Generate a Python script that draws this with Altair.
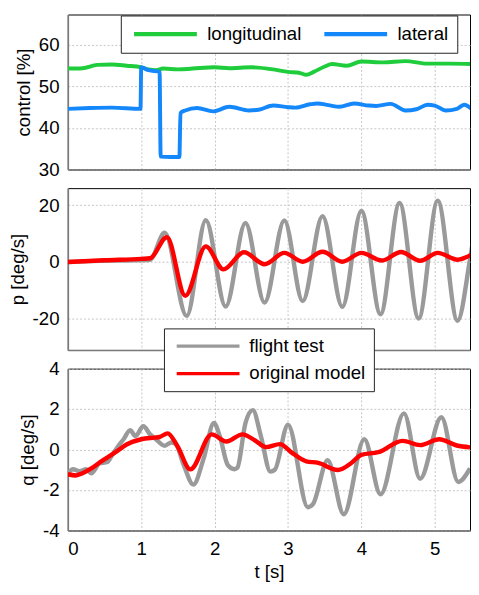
import altair as alt
import pandas as pd

# ---------------- data ----------------
t_long = [0, 0.2, 0.4, 0.6, 0.8, 1.0, 1.1, 1.2, 1.3, 1.5, 1.7, 2.0, 2.2, 2.5, 2.8, 3.0, 3.15, 3.25, 3.35, 3.5, 3.6, 3.8, 4.0, 4.3, 4.6, 4.9, 5.2, 5.5]
long_vals = [54.3, 54.4, 55.2, 55.3, 55.0, 54.6, 54.1, 53.9, 54.3, 54.1, 54.3, 54.6, 54.4, 54.6, 54.1, 53.5, 53.3, 52.8, 53.5, 54.8, 55.4, 55.0, 56.0, 55.8, 56.1, 55.5, 55.5, 55.4]

t_lat = [0, 0.3, 0.6, 0.99, 1.0, 1.1, 1.25, 1.265, 1.4, 1.52, 1.535, 1.6, 1.76, 1.98, 2.2, 2.47, 2.6, 2.8, 3.0, 3.1, 3.3, 3.4, 3.55, 3.7, 3.9, 4.1, 4.2, 4.4, 4.6, 4.75, 4.9, 5.0, 5.15, 5.3, 5.4, 5.5]
lat_vals = [44.6, 44.8, 44.9, 44.6, 54.6, 53.9, 53.5, 33.1, 33.0, 33.0, 43.6, 44.2, 44.8, 44.0, 45.1, 44.2, 44.4, 45.4, 45.0, 44.9, 45.7, 45.9, 45.5, 45.1, 45.9, 45.4, 45.3, 45.8, 44.2, 44.5, 45.6, 45.4, 44.2, 44.6, 45.6, 44.6]

t_p_flight = [0, 0.3, 0.6, 0.9, 1.12, 1.32, 1.62, 1.88, 2.15, 2.42, 2.68, 2.95, 3.2, 3.47, 3.74, 4.0, 4.26, 4.52, 4.78, 5.04, 5.31, 5.48, 5.6]
p_flight = [0, 0.3, 0.5, 0.6, 0.8, 10.3, -19.0, 14.7, -15.7, 13.7, -14.3, 14.6, -13.8, 16.1, -15.8, 18.0, -18.4, 20.8, -19.9, 21.6, -20.7, 1.0, 21.0]

t_p_model = [0, 0.5, 1.0, 1.12, 1.35, 1.6, 1.88, 2.12, 2.4, 2.68, 2.95, 3.2, 3.47, 3.74, 4.0, 4.28, 4.54, 4.8, 5.04, 5.31, 5.5]
p_model = [0, 0.6, 1.1, 1.3, 8.7, -11.9, 5.5, -2.6, 3.4, -0.8, 3.2, 0.1, 3.6, 0.1, 3.2, 0.5, 3.5, 0.4, 3.2, 0.8, 2.6]

t_q_flight = [0, 0.07, 0.16, 0.25, 0.32, 0.43, 0.54, 0.6, 0.69, 0.76, 0.85, 0.92, 1.03, 1.12, 1.2, 1.32, 1.41, 1.47, 1.58, 1.71, 1.85, 1.99, 2.07, 2.18, 2.27, 2.31, 2.42, 2.52, 2.63, 2.76, 2.82, 3.0, 3.27, 3.34, 3.54, 3.76, 4.04, 4.26, 4.58, 4.8, 5.09, 5.32, 5.48]
q_flight = [-1.17, -0.97, -1.07, -0.97, -1.17, -0.69, -0.61, -0.29, 0.19, 0.51, 0.96, 0.67, 1.15, 0.75, 0.51, 0.19, 0.35, 0.27, -0.77, -1.73, -0.45, 1.31, 0.67, -0.77, -0.97, -0.9, 1.31, 1.95, 0.67, -1.09, -1.0, 1.23, -2.85, -2.7, -0.53, -3.2, 0.51, -2.21, 1.79, -1.44, 1.6, -1.6, -0.93]

t_q_model = [0, 0.11, 0.2, 0.32, 0.45, 0.65, 0.8, 1.0, 1.18, 1.25, 1.36, 1.49, 1.67, 1.96, 2.16, 2.38, 2.55, 2.7, 2.89, 3.05, 3.25, 3.4, 3.68, 3.85, 4.0, 4.23, 4.56, 4.8, 5.06, 5.3, 5.48]
q_model = [-1.22, -1.28, -1.17, -0.93, -0.6, -0.13, 0.25, 0.51, 0.59, 0.62, 0.8, 0.19, -0.98, 0.75, 0.4, 0.75, 0.45, 0.12, 0.27, -0.15, -0.58, -0.65, -1.01, -0.7, -0.26, -0.13, 0.43, 0.22, 0.51, 0.2, 0.11]

x_ticks = [0, 1, 2, 3, 4, 5]
ctrl_ticks = [30, 40, 50, 60]
p_ticks = [-20, 0, 20]
q_ticks = [-4, -2, 0, 2, 4]

# ---------------- style ----------------
FONT = "Liberation Sans"
FS = 19
XMAX = 5.48
W = 410
H = 165
H_TOP = 158
GREEN = "#1ecc3c"
BLUE = "#1487fa"
GRAY = "#9a9a9a"
RED = "#ff0000"
LBL = "'' + datum.value"


def x_enc(show):
    kw = dict(values=x_ticks, labels=show, labelExpr=LBL)
    if show:
        kw["title"] = "t [s]"
    else:
        kw["title"] = None
    return alt.X("t:Q", scale=alt.Scale(domain=[0, XMAX], nice=False, zero=False), axis=alt.Axis(**kw))


def y_enc(title, domain, ticks):
    return alt.Y("v:Q", scale=alt.Scale(domain=domain, nice=False, zero=False),
                 axis=alt.Axis(values=ticks, title=title, labelExpr=LBL))


def legend(x, y, cols, direction, pad, sym_off, sym_w, row_pad):
    return alt.Legend(orient="none", legendX=x, legendY=y, direction=direction, columns=cols,
                      title=None, fillColor="white", strokeColor="#222222", padding=pad,
                      symbolType="stroke", symbolSize=4096, symbolStrokeWidth=sym_w,
                      symbolOffset=sym_off, labelOffset=8, clipHeight=20, rowPadding=row_pad,
                      columnPadding=18, labelFont=FONT, labelFontSize=FS, labelColor="black",
                      labelLimit=400, cornerRadius=0)


# ---------------- top panel ----------------
top_df = pd.concat([
    pd.DataFrame({"t": t_long, "v": long_vals, "s": "longitudinal"}),
    pd.DataFrame({"t": t_lat, "v": lat_vals, "s": "lateral"}),
])
top = alt.Chart(top_df).mark_line(strokeWidth=4, interpolate="monotone", clip=True).encode(
    x=x_enc(False),
    y=y_enc("control [%]", [30, 67.32], ctrl_ticks),
    color=alt.Color("s:N", scale=alt.Scale(domain=["longitudinal", "lateral"], range=[GREEN, BLUE]),
                    legend=legend(54, 1, 2, "horizontal", 9, 2, 4.5, 10)),
).properties(width=W, height=H_TOP)


def pair(t1, v1, t2, v2, ytitle, domain, ticks, show_x, show_leg):
    d1 = pd.DataFrame({"t": t1, "v": v1, "s": "flight test"})
    d2 = pd.DataFrame({"t": t2, "v": v2, "s": "original model"})
    leg = legend(98, -41, 1, "vertical", 8, 3, 3.3, 8) if show_leg else None
    cscale = alt.Scale(domain=["flight test", "original model"], range=[GRAY, RED])
    ckw = dict(scale=cscale, legend=leg)
    g = alt.Chart(d1).mark_line(strokeWidth=4.5, interpolate="monotone", clip=True).encode(
        x=x_enc(show_x), y=y_enc(ytitle, domain, ticks), color=alt.Color("s:N", **ckw))
    r = alt.Chart(d2).mark_line(strokeWidth=4.5, interpolate="monotone", clip=True).encode(
        x=x_enc(show_x), y=y_enc(ytitle, domain, ticks), color=alt.Color("s:N", **ckw))
    return alt.layer(g, r).properties(width=W, height=H)


mid = pair(t_p_flight, p_flight, t_p_model, p_model, "p [deg/s]", [-31, 26], p_ticks, False, False)
bot = pair(t_q_flight, q_flight, t_q_model, q_model, "q [deg/s]", [-4, 4], q_ticks, True, True)

chart = alt.vconcat(top, mid, bot, spacing=19, bounds="flush").resolve_scale(color="independent").properties(
    padding={"left": 0, "top": 0, "right": 0, "bottom": 0}
).configure_view(stroke="black", strokeWidth=1).configure_axis(
    labelFont=FONT, titleFont=FONT, labelFontSize=FS, titleFontSize=FS, titleFontWeight="normal",
    labelColor="black", titleColor="black", grid=True, gridColor="#c4c4c4", gridDash=[2, 2],
    gridWidth=1, domainColor="#7a7a7a", domainWidth=1.6, ticks=False, labelPadding=9, titlePadding=5,
)

chart.save("out.html", embed_options={"renderer": "svg", "actions": False})
